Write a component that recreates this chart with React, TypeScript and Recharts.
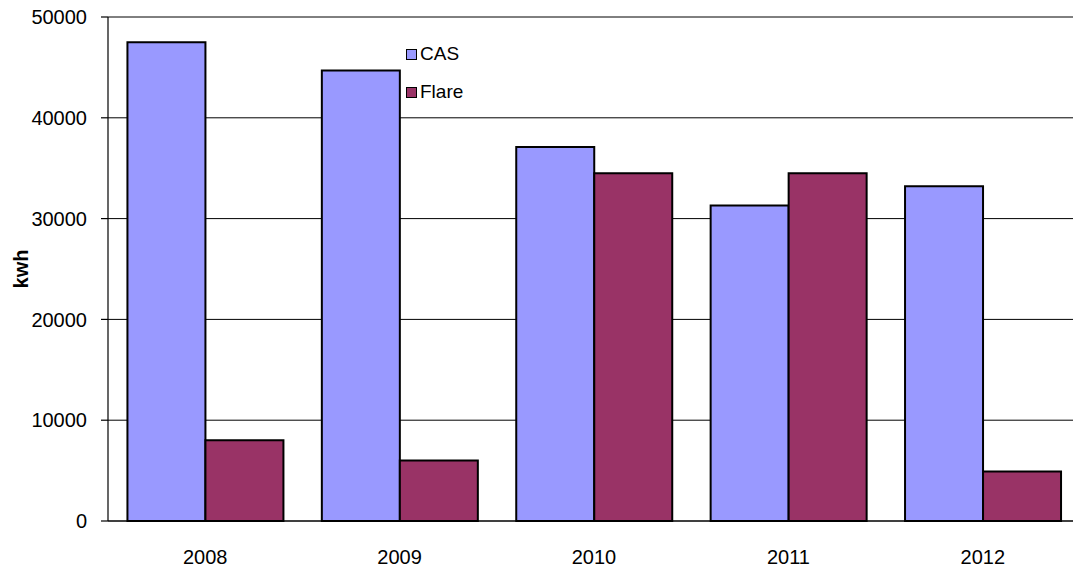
import React from 'react';
import { BarChart, Bar, XAxis, YAxis, CartesianGrid, Legend } from 'recharts';

const years = ['2008', '2009', '2010', '2011', '2012'];
const casValues = [47500, 44700, 37100, 31300, 33200];
const flareValues = [8000, 6000, 34500, 34500, 4900];
const yTicks = [0, 10000, 20000, 30000, 40000, 50000];
const boundaryTicks = [0, 1, 2, 3, 4, 5];

const FONT = '"Liberation Sans", Arial, sans-serif';

const data = years.map((year, i) => ({
  year,
  CAS: casValues[i],
  Flare: flareValues[i],
}));

const legendItems = [
  { name: 'CAS', color: '#9999FF' },
  { name: 'Flare', color: '#993366' },
];

const renderLegend = () => (
  <div style={{ fontFamily: FONT, fontSize: 19, color: '#000' }}>
    {legendItems.map((item) => (
      <div key={item.name} style={{ display: 'flex', alignItems: 'center', height: 38 }}>
        <span
          style={{
            display: 'inline-block',
            width: 9,
            height: 9,
            background: item.color,
            border: '1.5px solid #000',
            marginRight: 3,
          }}
        />
        {item.name}
      </div>
    ))}
  </div>
);

const YLabel = (props: any) => {
  const vb = props.viewBox || {};
  const cx = vb.x + 28;
  const cy = vb.y + vb.height / 2;
  return (
    <text
      x={cx}
      y={cy}
      transform={`rotate(-90, ${cx}, ${cy})`}
      textAnchor="middle"
      fontFamily={FONT}
      fontSize={20}
      fontWeight="bold"
      fill="#000"
    >
      kwh
    </text>
  );
};

export default function App() {
  return (
    <div style={{ position: 'absolute', left: 0, top: 0, width: 1073, height: 569, overflow: 'hidden', background: '#fff' }}>
      <BarChart
        width={1090}
        height={569}
        data={data}
        margin={{ top: 17, right: 10, left: 0, bottom: 0 }}
        barCategoryGap="10%"
        barGap={0}
      >
        <CartesianGrid xAxisId="cat" vertical={false} stroke="#000" strokeWidth={1} />
        <XAxis
          xAxisId="bounds"
          type="number"
          domain={[0, 5]}
          ticks={boundaryTicks}
          tick={false}
          axisLine={false}
          tickSize={6}
          height={0}
          stroke="#000"
        />
        <XAxis
          xAxisId="cat"
          dataKey="year"
          tickLine={false}
          tickSize={0}
          tickMargin={29}
          height={48}
          axisLine={{ stroke: '#000', strokeWidth: 1.2 }}
          tick={{ fill: '#000', fontFamily: FONT, fontSize: 20 }}
        />
        <YAxis
          domain={[0, 50000]}
          ticks={yTicks}
          width={108}
          tickSize={7}
          tickMargin={14}
          axisLine={{ stroke: '#000', strokeWidth: 1.2 }}
          tickLine={{ stroke: '#000', strokeWidth: 1.2 }}
          tick={{ fill: '#000', fontFamily: FONT, fontSize: 20 }}
          label={<YLabel />}
        />
        <Legend
          layout="vertical"
          align="center"
          verticalAlign="middle"
          content={renderLegend}
          wrapperStyle={{ position: 'absolute', left: 406, top: 35, width: 'auto', height: 'auto' }}
        />
        <Bar xAxisId="cat" dataKey="CAS" fill="#9999FF" stroke="#000" strokeWidth={2} isAnimationActive={false} />
        <Bar xAxisId="cat" dataKey="Flare" fill="#993366" stroke="#000" strokeWidth={2} isAnimationActive={false} />
      </BarChart>
    </div>
  );
}
